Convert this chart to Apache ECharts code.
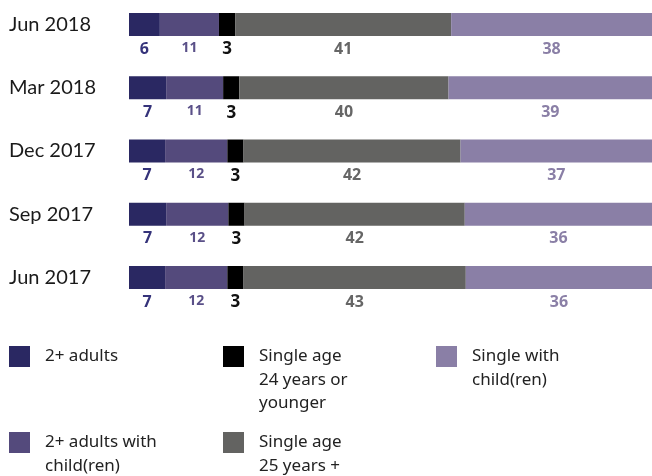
<!DOCTYPE html>
<html>
<head>
<meta charset="utf-8">
<script src="https://cdn.jsdelivr.net/npm/echarts@6/dist/echarts.min.js"></script>
<style>
html,body{margin:0;padding:0;background:#fff;}
#chart{width:652px;height:476px;}
</style>
</head>
<body>
<div id="chart"></div>
<script>
var categories = ['Jun 2018', 'Mar 2018', 'Dec 2017', 'Sep 2017', 'Jun 2017'];
var seriesNames = ['2+ adults', '2+ adults with child(ren)', 'Single age 24 years or younger', 'Single age 25 years +', 'Single with child(ren)'];
var adults = [5.9, 7.1, 6.9, 7.1, 6.9];
var adultsWithChildren = [11.3, 10.9, 11.9, 11.9, 11.9];
var single24 = [3.1, 3.1, 3.1, 3.1, 3.1];
var single25 = [41.3, 40.0, 41.5, 42.1, 42.5];
var singleWithChildren = [38.4, 38.9, 36.6, 35.8, 35.6];
var legendLabels = ['2+ adults', '2+ adults with\nchild(ren)', 'Single age\n24 years or\nyounger', 'Single age\n25 years +', 'Single with\nchild(ren)'];

var values = [adults, adultsWithChildren, single24, single25, singleWithChildren];
var barColors = ['#2a2862', '#544a7c', '#000000', '#636361', '#8a7fa6'];
var labelColors = ['#35337a', '#5a5088', '#111111', '#666666', '#8a7fa6'];
var labelSizes = [16, 14, 17, 16, 16];

var chart = echarts.init(document.getElementById('chart'));

var series = values.map(function (arr, i) {
  return {
    name: seriesNames[i],
    type: 'bar',
    stack: 'total',
    data: arr,
    barWidth: 23,
    itemStyle: { color: barColors[i] },
    label: {
      show: true,
      position: 'bottom',
      distance: 5,
      color: labelColors[i],
      fontFamily: 'Open Sans',
      fontWeight: 'bold',
      fontSize: labelSizes[i],
      formatter: function (p) { return String(Math.round(p.value)); }
    },
    emphasis: { disabled: true }
  };
});

// legend drawn as graphic items (multi-line, icon aligned to first line)
var legendPos = [[9, 346], [9, 432], [223, 346], [223, 432], [436, 346]];
var lh = 23.5;
var graphics = [];
legendLabels.forEach(function (txt, i) {
  var x = legendPos[i][0], y = legendPos[i][1];
  graphics.push({
    type: 'rect', left: x, top: y,
    shape: { width: 21, height: 21 },
    style: { fill: barColors[i] }
  });
  graphics.push({
    type: 'text', x: x + 36, y: y + 10.5 - lh / 2,
    style: {
      text: txt, fill: '#222222', font: '17px "Noto Sans"',
      lineHeight: lh, verticalAlign: 'top', align: 'left'
    }
  });
});

chart.setOption({
  animation: false,
  grid: { left: 129, right: 0, top: 24.5, height: 253, containLabel: false },
  xAxis: {
    type: 'value', min: 0, max: 100, show: false
  },
  yAxis: {
    type: 'category', inverse: true, data: categories, boundaryGap: false,
    axisLine: { show: false }, axisTick: { show: false }, splitLine: { show: false },
    axisLabel: {
      align: 'left', margin: 120, fontFamily: 'Lato', fontSize: 20, color: '#1a1a1a'
    }
  },
  series: series,
  graphic: graphics
});
</script>
</body>
</html>
